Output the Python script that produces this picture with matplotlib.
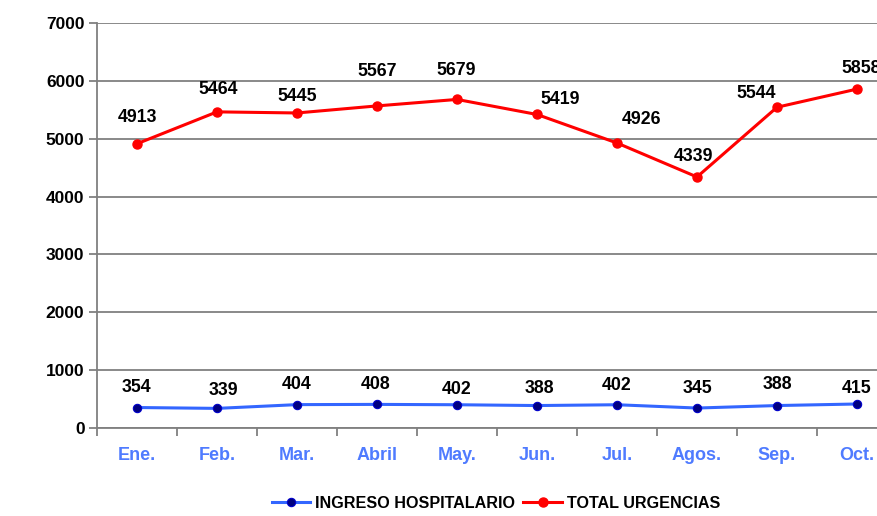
import matplotlib.pyplot as plt
import numpy as np

months = ["Ene.", "Feb.", "Mar.", "Abril", "May.", "Jun.", "Jul.", "Agos.", "Sep.", "Oct."]
ingreso = [354, 339, 404, 408, 402, 388, 402, 345, 388, 415]
urgencias = [4913, 5464, 5445, 5567, 5679, 5419, 4926, 4339, 5544, 5858]

# label offsets in pixels (dx, dy) relative to the point
red_off = [(0, 26), (1, 22), (0, 16), (0, 34), (-1, 29), (23, 15), (25, 23), (-4, 20), (-21, 14), (4, 21)]
blue_off = [(-1, 20), (6, 18), (0, 20), (-1, 20), (0, 15), (2, 17), (0, 19), (0, 20), (0, 21), (0, 15)]

plt.rcParams['font.family'] = ['Liberation Sans', 'DejaVu Sans']

fig = plt.figure(figsize=(8.77, 5.16), dpi=100)
ax = fig.add_axes([97/877, (516-428)/516, 1 - 97/877, (428-23)/516])

x = np.arange(len(months))
l1, = ax.plot(x, ingreso, color='#3366FF', lw=2.2, marker='o', ms=6,
              markerfacecolor='#000080', markeredgecolor='#0000CC', markeredgewidth=0.8,
              label='INGRESO HOSPITALARIO', zorder=3)
l2, = ax.plot(x, urgencias, color='#FF0000', lw=2.2, marker='o', ms=6.5,
              markerfacecolor='#FF0000', markeredgecolor='#FF0000',
              label='TOTAL URGENCIAS', zorder=3)

for xi, v, (dx, dy) in zip(x, urgencias, red_off):
    ax.annotate(str(v), (xi, v), xytext=(dx*0.72, dy*0.72), textcoords='offset points',
                ha='center', va='center', fontsize=12.8, fontweight='bold', color='black',
                annotation_clip=False)
for xi, v, (dx, dy) in zip(x, ingreso, blue_off):
    ax.annotate(str(v), (xi, v), xytext=(dx*0.72, dy*0.72), textcoords='offset points',
                ha='center', va='center', fontsize=12.8, fontweight='bold', color='black',
                annotation_clip=False)

ax.set_yticks(np.arange(0, 7001, 1000))
ax.yaxis.grid(True, color='#808080', lw=1.3)
ax.set_axisbelow(True)

ax.set_xticks(x)
ax.set_xticklabels(months, color='#4F7BFF', fontsize=13, fontweight='bold')
ax.set_xticks(np.arange(-0.5, 9.6, 1), minor=True)
ax.tick_params(axis='x', which='major', length=0, pad=14)
ax.tick_params(axis='x', which='minor', length=6, width=1.3, color='#808080', direction='out')
ax.tick_params(axis='y', length=6, width=1.3, color='#808080', direction='out', pad=3)
for lab in ax.get_yticklabels():
    lab.set_fontsize(12.5)
    lab.set_fontweight('bold')

ax.set_xlim(-0.5, 9.25)
ax.set_ylim(0, 7000)

for s in ['top', 'right']:
    ax.spines[s].set_visible(False)
for s in ['left', 'bottom']:
    ax.spines[s].set_color('#808080')
    ax.spines[s].set_linewidth(1.3)

fig.legend(handles=[l1, l2], loc='center', bbox_to_anchor=(496/877, 1 - 503/516),
           ncol=2, frameon=False, prop={'size': 11.6, 'weight': 'bold'},
           handlelength=2.4, handletextpad=0.3, columnspacing=0.5)

fig.savefig('out.png', dpi=100)
